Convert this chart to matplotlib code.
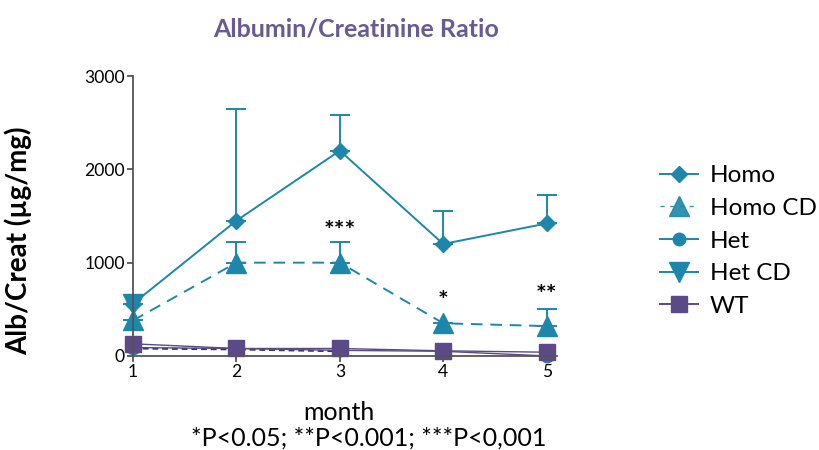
import numpy as np
import matplotlib.pyplot as plt
from matplotlib.lines import Line2D

plt.rcParams['font.family'] = ['Lato', 'DejaVu Sans']

months = [1, 2, 3, 4, 5]
homo = [560, 1450, 2200, 1200, 1420]
homo_err = [np.nan, 1200, 380, 350, 300]
homo_cd = [380, 1000, 1000, 350, 320]
homo_cd_err = [np.nan, 220, 220, np.nan, 180]
het = [90, 80, 60, 50, 0]
het_cd = [560, np.nan, np.nan, np.nan, np.nan]
wt = [130, 80, 80, 55, 40]
wt_dash = [80, 70, 50]
star_months = [3, 4, 5]
star_text = ["***", "*", "**"]
star_y = [1250, 500, 563]
legend_labels = ["Homo", "Homo CD", "Het", "Het CD", "WT"]

teal = "#1c87ab"
purple = "#5b4a86"

fig = plt.figure(figsize=(8.19, 4.5), dpi=100)
ax = fig.add_axes([0.1624, 0.209, 0.5177, 0.622])

zeros = np.zeros(5)
ax.errorbar(months, homo, yerr=[zeros, homo_err], color=teal, marker="D",
            markersize=8.5, lw=1.4, capsize=7, capthick=1.4)
ax.errorbar(months, homo_cd, yerr=[zeros, homo_cd_err], color=teal, marker="^",
            markersize=14, lw=1.4, ls=(0, (6, 4)), capsize=7, capthick=1.4)
ax.plot(months[:3], wt_dash, color="#333355", lw=1.4, ls=(0, (3, 2)))
ax.plot(months, het, color=purple, marker="o", markersize=9, lw=1.0,
        markerfacecolor=teal, markeredgecolor=teal)
ax.plot(months, het_cd, color=teal, marker="v", markersize=14, lw=1.4)
ax.plot(months, wt, color=purple, marker="s", markersize=11.5, lw=1.0)

for m, y, s in zip(star_months, star_y, star_text):
    ax.text(m, y, s, ha="center", va="baseline", fontsize=18, fontweight="bold")

ax.set_xlim(1, 5.1)
ax.set_ylim(0, 3000)
ax.set_xticks(months)
ax.set_yticks([0, 1000, 2000, 3000])
ax.spines["top"].set_visible(False)
ax.spines["right"].set_visible(False)
for s in ["left", "bottom"]:
    ax.spines[s].set_color("#555555")
    ax.spines[s].set_linewidth(1.3)
ax.tick_params(labelsize=12.6, color="#555555", length=4, width=1.3, pad=2)
ax.set_ylabel("Alb/Creat (µg/mg)", fontsize=20, fontweight="bold")
ax.yaxis.set_label_coords(-0.238, 0.41)
for ln in ax.get_children():
    try:
        ln.set_clip_on(False)
    except Exception:
        pass

fig.text(339 / 819, 1 - 412 / 450, "month", ha="center", va="center", fontsize=18)
fig.text(369 / 819, 1 - 438 / 450, "*P<0.05; **P<0.001; ***P<0,001",
         ha="center", va="center", fontsize=18)
fig.text(356 / 819, 1 - 29 / 450, "Albumin/Creatinine Ratio", ha="center", va="center",
         fontsize=18, fontweight="bold", color="#6a5a94")

handles = [
    Line2D([], [], color=teal, marker="D", markersize=8.5, lw=1.4),
    Line2D([], [], color=teal, marker="^", markersize=14, lw=1.0, ls=(0, (3, 4)), alpha=0.9),
    Line2D([], [], color=teal, marker="o", markersize=9, lw=1.4),
    Line2D([], [], color=teal, marker="v", markersize=14, lw=1.4),
    Line2D([], [], color=purple, marker="s", markersize=11.5, lw=1.4),
]
fig.legend(handles, legend_labels, loc="center left", bbox_to_anchor=(660 / 819, 1 - 241 / 450),
           frameon=False, fontsize=17.5, handlelength=1.56, labelspacing=0.48,
           handletextpad=0.5, borderpad=0, borderaxespad=0)

fig.savefig("out.png", dpi=100)
